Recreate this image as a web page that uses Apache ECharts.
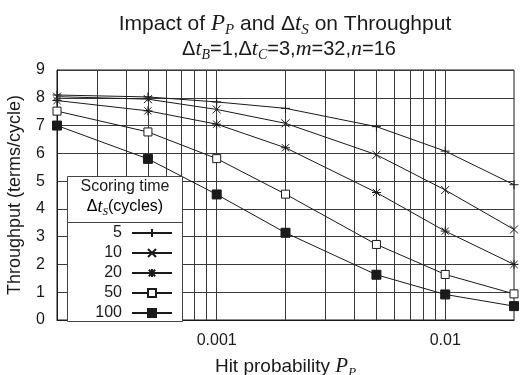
<!DOCTYPE html>
<html>
<head>
<meta charset="utf-8">
<script src="https://cdn.jsdelivr.net/npm/echarts@6/dist/echarts.min.js"></script>
<style>
  html, body { margin: 0; padding: 0; background: #fff; }
  #chart { width: 520px; height: 375px; }
</style>
</head>
<body>
<div id="chart"></div>
<script>
// Hit probabilities P_P sampled for each scoring time
const hitProb = [0.0002, 0.0005, 0.001, 0.002, 0.005, 0.01, 0.02];

// Throughput (terms/cycle) per scoring time Δt_S (cycles)
const scoringTimes = ['5', '10', '20', '50', '100'];
const tput5   = [8.10, 8.03, 7.85, 7.62, 6.96, 6.08, 4.87];
const tput10  = [8.04, 7.95, 7.58, 7.08, 5.95, 4.68, 3.26];
const tput20  = [7.90, 7.53, 7.05, 6.20, 4.59, 3.20, 2.00];
const tput50  = [7.52, 6.77, 5.81, 4.53, 2.72, 1.64, 0.94];
const tput100 = [7.00, 5.80, 4.52, 3.14, 1.63, 0.92, 0.50];

// Axis ticks
const xTickValues = [0.001, 0.01];
const xTickLabels = ['0.001', '0.01'];
const yTicks = [0, 1, 2, 3, 4, 5, 6, 7, 8, 9];

// Vertical log grid lines (every integer multiple inside each decade)
const xGridLines = [0.0003, 0.0004, 0.0005, 0.0006, 0.0007, 0.0008, 0.0009, 0.001,
                    0.002, 0.003, 0.004, 0.005, 0.006, 0.007, 0.008, 0.009, 0.01];

const SANS = '"Liberation Sans", Arial, Helvetica, sans-serif';
const SERIF = '"Liberation Serif", "Times New Roman", serif';
const INK = '#1a1a1a';

// Rich-text styles: plain text, italic math variable, lowered subscript
const mathRich = (size, lh) => ({
  n: { fontFamily: SANS, fontWeight: 'normal', fontSize: size, color: INK, lineHeight: lh },
  v: { fontFamily: SERIF, fontStyle: 'italic', fontWeight: 'normal', fontSize: size + 2, color: INK, lineHeight: lh },
  s: { fontFamily: SERIF, fontStyle: 'italic', fontWeight: 'normal', fontSize: Math.round(size * 0.7), color: INK,
       lineHeight: Math.round(lh / 2), padding: [Math.round(lh / 2), 0, 0, 0] }
});

const markers = [
  { symbol: 'path://M0,5L10,5M5,0L5,10', size: 9, fill: INK },
  { symbol: 'path://M0,0L10,10M10,0L0,10', size: 8, fill: INK },
  { symbol: 'path://M0,5L10,5M5,0L5,10M1,1L9,9M9,1L1,9', size: 9, fill: INK },
  { symbol: 'rect', size: 8, fill: '#fff' },
  { symbol: 'rect', size: 9, fill: INK }
];
const seriesValues = [tput5, tput10, tput20, tput50, tput100];

const chart = echarts.init(document.getElementById('chart'), null, { renderer: 'canvas' });

const dataSeries = scoringTimes.map((name, i) => ({
  name: name,
  type: 'line',
  data: hitProb.map((p, j) => [p, seriesValues[i][j]]),
  symbol: markers[i].symbol,
  symbolSize: markers[i].size,
  showAllSymbol: true,
  z: 3,
  lineStyle: { color: INK, width: 1 },
  itemStyle: { color: markers[i].fill, borderColor: INK, borderWidth: 1 },
  emphasis: { disabled: true },
  animation: false
}));

// Minor/major vertical grid lines of the log axis, drawn as segments in data space
const gridSeries = {
  name: 'grid',
  type: 'lines',
  coordinateSystem: 'cartesian2d',
  silent: true,
  z: 1,
  animation: false,
  lineStyle: { color: '#3a3a3a', width: 1, opacity: 1, curveness: 0 },
  data: xGridLines.map(v => ({ coords: [[v, yTicks[0]], [v, yTicks[yTicks.length - 1]]] }))
};

chart.setOption({
  animation: false,
  backgroundColor: '#fff',
  title: [
    {
      text: '{n|Impact of }{v|P}{s|P}{n| and Δ}{v|t}{s|S}{n| on Throughput}',
      left: 280, top: 7, textAlign: 'center',
      textStyle: { fontWeight: 'normal', rich: mathRich(21, 24) }
    },
    {
      text: '{n|Δ}{v|t}{s|B}{n|=1,Δ}{v|t}{s|C}{n|=3,}{v|m}{n|=32,}{v|n}{n|=16}',
      left: 284, top: 32, textAlign: 'center',
      textStyle: { fontWeight: 'normal', rich: mathRich(20, 24) }
    }
  ],
  grid: {
    left: 57, right: 6, top: 70, bottom: 55,
    outerBoundsMode: 'none',
    containLabel: false,
    show: true, borderColor: INK, borderWidth: 1, backgroundColor: 'transparent'
  },
  xAxis: {
    type: 'log',
    logBase: 10,
    min: hitProb[0],
    max: hitProb[hitProb.length - 1],
    axisLine: { show: true, lineStyle: { color: INK } },
    axisTick: { show: false },
    splitLine: { show: false },
    axisLabel: {
      margin: 13,
      fontFamily: SANS, fontSize: 16, color: INK,
      showMinLabel: false, showMaxLabel: false,
      formatter: (v) => {
        for (let k = 0; k < xTickValues.length; k++) {
          if (Math.abs(Math.log10(v) - Math.log10(xTickValues[k])) < 1e-6) return xTickLabels[k];
        }
        return '';
      }
    },
    name: '{n|Hit probability }{v|P}{s|P}',
    nameLocation: 'middle',
    nameGap: 32,
    nameTextStyle: { rich: mathRich(19, 24) }
  },
  yAxis: {
    type: 'value',
    min: yTicks[0],
    max: yTicks[yTicks.length - 1],
    interval: 1,
    axisLine: { show: true, lineStyle: { color: INK } },
    axisTick: { show: false },
    splitLine: { show: true, lineStyle: { color: '#3a3a3a', width: 1 } },
    axisLabel: { margin: 12, fontFamily: SANS, fontSize: 16, color: INK },
    name: 'Throughput (terms/cycle)',
    nameLocation: 'middle',
    nameGap: 33,
    nameTextStyle: { fontFamily: SANS, fontSize: 18, color: INK }
  },
  legend: {
    data: scoringTimes,
    orient: 'vertical',
    left: 85, top: 219,
    align: 'right',
    itemWidth: 40, itemHeight: 10, itemGap: 2,
    z: 20,
    selectedMode: false,
    textStyle: { fontFamily: SANS, fontSize: 16, color: INK, width: 32, align: 'right',
                 lineHeight: 18, padding: [0, 5, 0, 0] }
  },
  graphic: [
    {
      type: 'group', z: 10,
      children: [
        { type: 'rect', shape: { x: 67.5, y: 176.5, width: 115, height: 145 },
          style: { fill: '#fff', stroke: '#444', lineWidth: 1 }, z: 10 },
        { type: 'line', shape: { x1: 67.5, y1: 222.5, x2: 182.5, y2: 222.5 },
          style: { stroke: '#444', lineWidth: 1 }, z: 11 },
        { type: 'text', x: 125, y: 187, z: 11,
          style: { text: 'Scoring time', font: '16px ' + SANS, fill: INK, align: 'center', verticalAlign: 'middle' } },
        { type: 'text', x: 125, y: 207, z: 11,
          style: {
            text: '{n|Δ}{v|t}{s|S}{n|(cycles)}', align: 'center', verticalAlign: 'middle',
            rich: mathRich(16, 20)
          } }
      ]
    }
  ],
  series: [gridSeries].concat(dataSeries)
});
</script>
</body>
</html>
